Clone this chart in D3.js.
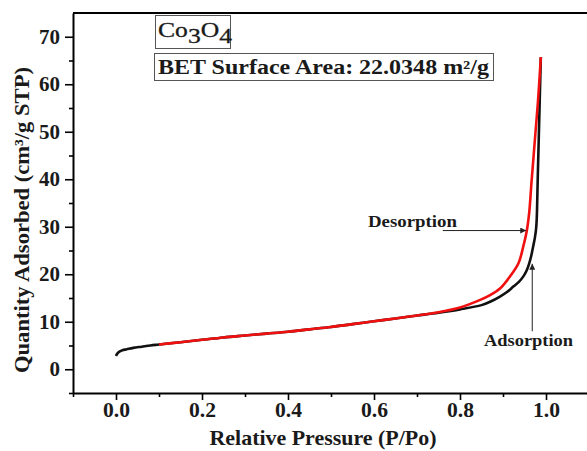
<!DOCTYPE html>
<html><head><meta charset="utf-8">
<script src="https://cdn.jsdelivr.net/npm/d3@7"></script>
<style>
html,body{margin:0;padding:0;background:#fff;}
svg{display:block;}
text{font-family:"Liberation Serif","Times New Roman",serif;}
</style></head>
<body><svg id="c" width="587" height="451"></svg>
<script>
// ---- data ----
const adsP = [0.0, 0.003, 0.008, 0.015, 0.025, 0.04, 0.06, 0.08, 0.1, 0.15, 0.2, 0.25, 0.3, 0.35, 0.4, 0.45, 0.5, 0.55, 0.6, 0.65, 0.7, 0.75, 0.8, 0.85, 0.87, 0.893, 0.91, 0.924, 0.937, 0.947, 0.955, 0.961, 0.966, 0.970, 0.974, 0.977, 0.9785, 0.9795, 0.981, 0.983, 0.9855, 0.988];
const adsQ = [2.8, 3.3, 3.7, 4.0, 4.2, 4.5, 4.75, 5.0, 5.2, 5.7, 6.2, 6.7, 7.1, 7.5, 7.9, 8.4, 8.9, 9.5, 10.1, 10.7, 11.3, 11.9, 12.6, 13.5, 14.2, 15.3, 16.3, 17.4, 18.4, 19.5, 20.8, 22.3, 24.0, 25.8, 27.6, 29.6, 31.8, 35.0, 41.0, 48.0, 57.0, 65.7];
const desP = [0.1, 0.15, 0.2, 0.25, 0.3, 0.35, 0.4, 0.45, 0.5, 0.55, 0.6, 0.65, 0.7, 0.75, 0.8, 0.847, 0.87, 0.893, 0.916, 0.936, 0.947, 0.955, 0.961, 0.966, 0.973, 0.981, 0.988];
const desQ = [5.2, 5.7, 6.2, 6.7, 7.1, 7.5, 7.9, 8.4, 8.9, 9.5, 10.1, 10.7, 11.3, 12.0, 13.0, 14.6, 15.6, 17.0, 19.5, 22.3, 25.8, 29.0, 33.0, 39.0, 47.0, 56.0, 65.7];
const xMajor = [0.0, 0.2, 0.4, 0.6, 0.8, 1.0];
const xMinor = [-0.1, 0.1, 0.3, 0.5, 0.7, 0.9];
const yMajor = [0, 10, 20, 30, 40, 50, 60, 70];
const yMinor = [-5, 5, 15, 25, 35, 45, 55, 65];
const xTitle = "Relative Pressure (P/Po)";
const yTitle = "Quantity Adsorbed (cm³/g STP)";
const betText = "BET Surface Area: 22.0348 m²/g";

// ---- layout ----
const svg = d3.select("#c");
const L = 73, R = 589, T = 13, B = 393;
const x = d3.scaleLinear().domain([-0.1, 1.1]).range([L, R]);
const y = d3.scaleLinear().domain([-5, 75]).range([B, T]);
const ink = "#1a1a1a";

// frame top line
svg.append("line").attr("x1", L).attr("x2", 587).attr("y1", T).attr("y2", T)
  .attr("stroke", "#000").attr("stroke-width", 2);

function styleAxis(g){
  g.select(".domain").attr("stroke", "#000").attr("stroke-width", 2);
  g.selectAll(".tick line").attr("stroke", "#000").attr("stroke-width", 1.6);
  g.selectAll("text").attr("font-family", "Liberation Serif, Times New Roman, serif")
    .attr("font-weight", "bold").attr("font-size", 20).attr("fill", ink)
    .attr("textLength", function(){ return this.textContent.length === 3 ? 27 : (this.textContent.length === 2 ? 21 : 10.5); })
    .attr("lengthAdjust", "spacingAndGlyphs");
}

// x axis
const gx = svg.append("g").attr("transform", `translate(0,${B})`)
  .call(d3.axisBottom(x).tickValues(xMajor).tickFormat(d3.format(".1f")).tickSize(7).tickSizeOuter(0).tickPadding(3));
styleAxis(gx);
svg.append("g").attr("transform", `translate(0,${B})`)
  .call(d3.axisBottom(x).tickValues(xMinor).tickFormat("").tickSize(4).tickSizeOuter(0))
  .call(g => { g.select(".domain").remove(); g.selectAll("line").attr("stroke", "#000").attr("stroke-width", 1.6); });

// y axis
const gy = svg.append("g").attr("transform", `translate(${L},0)`)
  .call(d3.axisLeft(y).tickValues(yMajor).tickFormat(d3.format("d")).tickSize(8).tickSizeOuter(0).tickPadding(5));
styleAxis(gy);
svg.append("g").attr("transform", `translate(${L},0)`)
  .call(d3.axisLeft(y).tickValues(yMinor).tickFormat("").tickSize(4).tickSizeOuter(0))
  .call(g => { g.select(".domain").remove(); g.selectAll("line").attr("stroke", "#000").attr("stroke-width", 1.6); });

// axis titles
svg.append("text").attr("x", 323).attr("y", 445).attr("text-anchor", "middle")
  .attr("font-weight", "bold").attr("font-size", 21).attr("fill", ink)
  .attr("textLength", 227).attr("lengthAdjust", "spacingAndGlyphs").text(xTitle);
svg.append("text").attr("transform", "translate(29,220) rotate(-90)").attr("text-anchor", "middle")
  .attr("font-weight", "bold").attr("font-size", 21).attr("fill", ink)
  .attr("textLength", 306).attr("lengthAdjust", "spacingAndGlyphs").text(yTitle);

// curves
const ads = adsP.map((p, i) => [p, adsQ[i]]);
const des = desP.map((p, i) => [p, desQ[i]]);
const lineY = d3.line().x(d => x(d[0])).y(d => y(d[1])).curve(d3.curveCatmullRom.alpha(0.5));
svg.append("path").datum(ads).attr("d", lineY).attr("fill", "none")
  .attr("stroke", "#111").attr("stroke-width", 2.6).attr("stroke-linejoin", "round");
svg.append("path").datum(des).attr("d", lineY).attr("fill", "none")
  .attr("stroke", "#f01010").attr("stroke-width", 2.6).attr("stroke-linejoin", "round");

// arrows
const defs = svg.append("defs");
defs.append("marker").attr("id", "ah").attr("viewBox", "0 0 10 10").attr("refX", 10).attr("refY", 5)
  .attr("markerWidth", 9).attr("markerHeight", 6).attr("markerUnits", "userSpaceOnUse").attr("orient", "auto")
  .append("path").attr("d", "M0,0 L10,5 L0,10 Z").attr("fill", "#222");
svg.append("line").attr("x1", x(0.76)).attr("y1", y(29.2)).attr("x2", x(0.954)).attr("y2", y(29.2))
  .attr("stroke", "#222").attr("stroke-width", 1).attr("marker-end", "url(#ah)");
svg.append("line").attr("x1", x(0.968)).attr("y1", y(8)).attr("x2", x(0.968)).attr("y2", y(22.2))
  .attr("stroke", "#222").attr("stroke-width", 1).attr("marker-end", "url(#ah)");
svg.append("text").attr("x", 368).attr("y", 227).attr("font-weight", "bold").attr("font-size", 16)
  .attr("fill", ink).attr("textLength", 89).attr("lengthAdjust", "spacingAndGlyphs").text("Desorption");
svg.append("text").attr("x", 484).attr("y", 345.5).attr("font-weight", "bold").attr("font-size", 16)
  .attr("fill", ink).attr("textLength", 89).attr("lengthAdjust", "spacingAndGlyphs").text("Adsorption");

// label boxes
svg.append("rect").attr("x", 155.5).attr("y", 15.5).attr("width", 75).attr("height", 33)
  .attr("fill", "#fff").attr("stroke", "#555").attr("stroke-width", 1);
const co = svg.append("text").attr("transform", "translate(158,37) scale(1.22,1)")
  .attr("font-size", 21).attr("fill", ink).attr("stroke", ink).attr("stroke-width", 0.3);
co.append("tspan").text("Co");
co.append("tspan").attr("dy", 6).text("3");
co.append("tspan").attr("dy", -6).text("O");
co.append("tspan").attr("dy", 6).text("4");
svg.append("rect").attr("x", 154.5).attr("y", 53.5).attr("width", 339).attr("height", 27)
  .attr("fill", "#fff").attr("stroke", "#555").attr("stroke-width", 1);
svg.append("text").attr("x", 158).attr("y", 73.5).attr("font-weight", "bold").attr("font-size", 20)
  .attr("fill", ink).attr("textLength", 331).attr("lengthAdjust", "spacingAndGlyphs").text(betText);
</script></body></html>
